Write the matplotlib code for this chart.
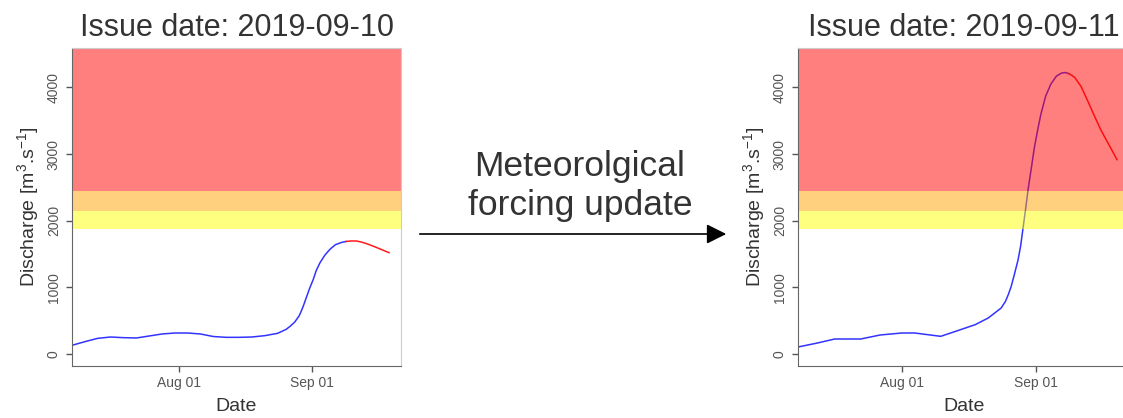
import matplotlib
matplotlib.use("Agg")
import matplotlib.pyplot as plt
import matplotlib.dates as mdates
import numpy as np

plt.rcParams['font.family'] = ['Liberation Sans', 'DejaVu Sans']
plt.rcParams['mathtext.fontset'] = 'custom'
plt.rcParams['mathtext.rm'] = 'Liberation Sans'
plt.rcParams['mathtext.it'] = 'Liberation Sans'

base = mdates.datestr2num('2019-08-01')

# days counted from 2019-08-01, discharge in m3/s
days_a = [-25, -22, -19, -16, -13, -10, -7, -4, -1, 2, 5, 8, 11, 14, 17, 20, 23, 25, 26,
          27, 28, 28.5, 29, 29.8, 30.5, 31.3, 32, 32.9, 34, 35.2, 36.5, 38, 39, 40, 41.4,
          42.5, 43.8, 46, 49]
q_a = [130, 185, 235, 255, 245, 240, 270, 300, 315, 315, 300, 262, 250, 250, 255, 275, 310, 370, 420,
       480, 570, 640, 720, 865, 990, 1115, 1250, 1370, 1480, 1570, 1640, 1675, 1688, 1695, 1695,
       1680, 1655, 1600, 1520]
fc_a = 39

days_b = [-24, -19.5, -15.5, -9.5, -5, 0, 3, 6, 9, 12, 17, 20, 23, 24, 24.7, 25.3, 26, 26.9,
          27.5, 28, 28.6, 29.2, 30, 30.7, 31.5, 32.2, 33.3, 34.5, 35.8, 37, 37.8, 38.7, 40,
          41.5, 43, 44.5, 46.1, 48, 49.8]
q_b = [105, 165, 225, 225, 285, 315, 315, 290, 265, 330, 440, 540, 690, 790, 900, 1010, 1180, 1410,
       1620, 1860, 2150, 2455, 2800, 3105, 3380, 3600, 3870, 4050, 4170, 4215, 4222, 4205, 4150,
       4010, 3800, 3580, 3355, 3130, 2915]
fc_b = 38.7

issue = ['2019-09-10', '2019-09-11']
thresholds = [1880, 2140, 2450]
band_colors = ['#FFFF00', '#FFA500', '#FF0000']


def panel(ax, days, q, fc, title, xlim):
    d = np.array(days, dtype=float)
    v = np.array(q, dtype=float)
    x = base + d
    past = d <= fc
    fut = d >= fc
    ax.plot(x[past], v[past], color='#3333ff', lw=1.1, zorder=1)
    ax.plot(x[fut], v[fut], color='#ff1a1a', lw=1.1, zorder=1)
    ylim = (-180, 4590)
    edges = thresholds + [ylim[1] + 100]
    for lo, hi, c in zip(edges[:-1], edges[1:], band_colors):
        ax.axhspan(lo, hi, color=c, alpha=0.5, lw=0, zorder=2)
    ax.set_xlim(base + xlim[0], base + xlim[1])
    ax.set_ylim(*ylim)
    ax.set_xticks([mdates.datestr2num('2019-08-01'), mdates.datestr2num('2019-09-01')])
    ax.xaxis.set_major_formatter(mdates.DateFormatter('%b %d'))
    ax.set_yticks([0, 1000, 2000, 3000, 4000])
    ax.tick_params(axis='both', labelsize=10, colors='#555555', length=4, width=1)
    ax.tick_params(axis='y', labelrotation=90, pad=4)
    ax.tick_params(axis='x', pad=3)
    for lab in ax.get_yticklabels():
        lab.set_verticalalignment('center')
    for s in ['left', 'bottom']:
        ax.spines[s].set_color('#666666')
    for s in ['top', 'right']:
        ax.spines[s].set_color('#cccccc')
    ax.set_title('Issue date: ' + title, fontsize=22, color='#333333', pad=9)
    ax.set_xlabel('Date', fontsize=14, color='#333333', labelpad=6)
    ax.set_ylabel(r'Discharge [m$^3$.s$^{-1}$]', fontsize=14, color='#333333', labelpad=4)


fig = plt.figure(figsize=(11.23, 4.18), dpi=100)
ax1 = fig.add_axes([72 / 1123, 52 / 418, 329 / 1123, 318 / 418])
ax2 = fig.add_axes([798 / 1123, 52 / 418, 332 / 1123, 318 / 418])
panel(ax1, days_a, q_a, fc_a, issue[0], (-25, 51.8))
panel(ax2, days_b, q_b, fc_b, issue[1], (-24, 52.8))

fig.text(580 / 1123, 1 - 186 / 418, 'Meteorolgical\nforcing update', ha='center', va='center',
         fontsize=25.5, linespacing=1.2, color='#333333')
fig.add_artist(matplotlib.patches.FancyArrowPatch(
    (417 / 1123, 1 - 234 / 418), (729 / 1123, 1 - 234 / 418), transform=fig.transFigure,
    arrowstyle='-|>,head_length=8,head_width=4', color='black', lw=1.2, mutation_scale=1.5))

fig.savefig('out.png', dpi=100)
